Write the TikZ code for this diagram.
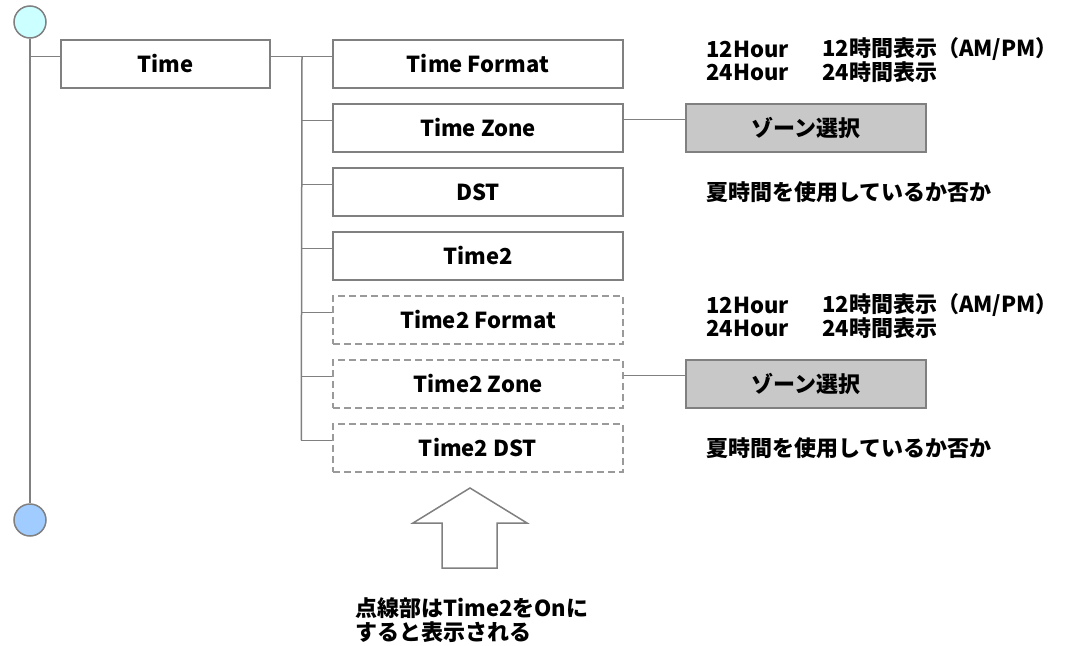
\documentclass[tikz,border=0pt]{standalone}
\usepackage{fontspec}
\setmainfont{Noto Sans CJK JP}
\usetikzlibrary{calc}
\definecolor{linegray}{HTML}{808080}
\definecolor{dashgray}{HTML}{9A9A9A}
\definecolor{boxgray}{HTML}{C8C8C8}
\definecolor{topfill}{HTML}{CCFFFF}
\definecolor{botfill}{HTML}{A0CCFF}
\begin{document}
\begin{tikzpicture}[x=1pt,y=-1pt,
  every node/.style={font=\fontsize{22}{24}\selectfont\bfseries, text=black},
  item/.style={draw=linegray, line width=1.5pt, fill=white, minimum width=290pt, minimum height=48pt, inner sep=0pt},
  itemdash/.style={item, draw=dashgray, dash pattern=on 7pt off 4pt},
  rootbox/.style={item, minimum width=209pt},
  zonebox/.style={draw=linegray, line width=1.5pt, fill=boxgray, minimum width=240pt, minimum height=48pt, inner sep=0pt},
  conn/.style={draw=linegray, line width=1.5pt},
  desc/.style={anchor=west, inner sep=0pt},
  endpt/.style={circle, draw=linegray, line width=1.5pt, minimum size=32pt, inner sep=0pt}
]
\useasboundingbox (0,0) rectangle (1070,645);

% end circles
\node[endpt, fill=topfill] (top) at (30,22) {};
\node[endpt, fill=botfill] (bot) at (30,520) {};

% boxes
\node[rootbox] (time) at (165.5,64) {Time};
\node[item] (tf) at (478,64) {Time Format};
\node[item] (tz) at (478,128) {Time Zone};
\node[item] (dst) at (478,192) {DST};
\node[item] (t2) at (478,256) {Time2};
\node[itemdash] (t2f) at (478,320) {Time2 Format};
\node[itemdash] (t2z) at (478,384) {Time2 Zone};
\node[itemdash] (t2d) at (478,448) {Time2 DST};

\node[zonebox] (zs1) at (806,128) {ゾーン選択};
\node[zonebox] (zs2) at (806,384) {ゾーン選択};

% spine
\draw[conn] (top.south) -- (bot.north);
\coordinate (s0) at ($(time.north west)+(0,17)$);
\draw[conn] (s0 -| top) -- (s0);

% branch
\coordinate (b0) at ($(time.north east)+(0,17)$);
\coordinate (bx) at (302,57);
\draw[conn] (b0) -- ($(tf.north west)+(0,17)$);
\draw[conn] (bx) -- ($(t2d.north west)+(0,17)-(31,0)$);
\foreach \n in {tz,dst,t2,t2f,t2z,t2d}{
  \draw[conn] ($(\n.north west)+(0,17)-(31,0)$) -- ($(\n.north west)+(0,17)$);
}

% zone connectors
\draw[conn] ($(tz.north east)+(0,16)$) -- ($(zs1.north west)+(0,16)$);
\draw[conn] ($(t2z.north east)+(0,16)$) -- ($(zs2.north west)+(0,16)$);

% descriptions
\node[desc] (h12a) at (706,49) {12Hour};
\node[desc] (h12b) at (822,49) {12時間表示（AM/PM）};
\node[desc] (h24a) at (706,72) {24Hour};
\node[desc] (h24b) at (822,72) {24時間表示};
\node[desc] (dstd) at (706,192) {夏時間を使用しているか否か};

\node[desc] (h12c) at (706,305) {12Hour};
\node[desc] (h12d) at (822,305) {12時間表示（AM/PM）};
\node[desc] (h24c) at (706,328) {24Hour};
\node[desc] (h24d) at (822,328) {24時間表示};
\node[desc] (dstd2) at (706,448) {夏時間を使用しているか否か};

% block arrow
\draw[draw=linegray, line width=1.5pt, fill=white, line join=miter]
  (470,488) -- (527,523) -- (497,523) -- (497,568) -- (442,568) -- (442,523) -- (413,523) -- cycle;

\node[desc] (note1) at (355,608) {点線部はTime2をOnに};
\node[desc] (note2) at (355,632) {すると表示される};
\end{tikzpicture}
\end{document}
